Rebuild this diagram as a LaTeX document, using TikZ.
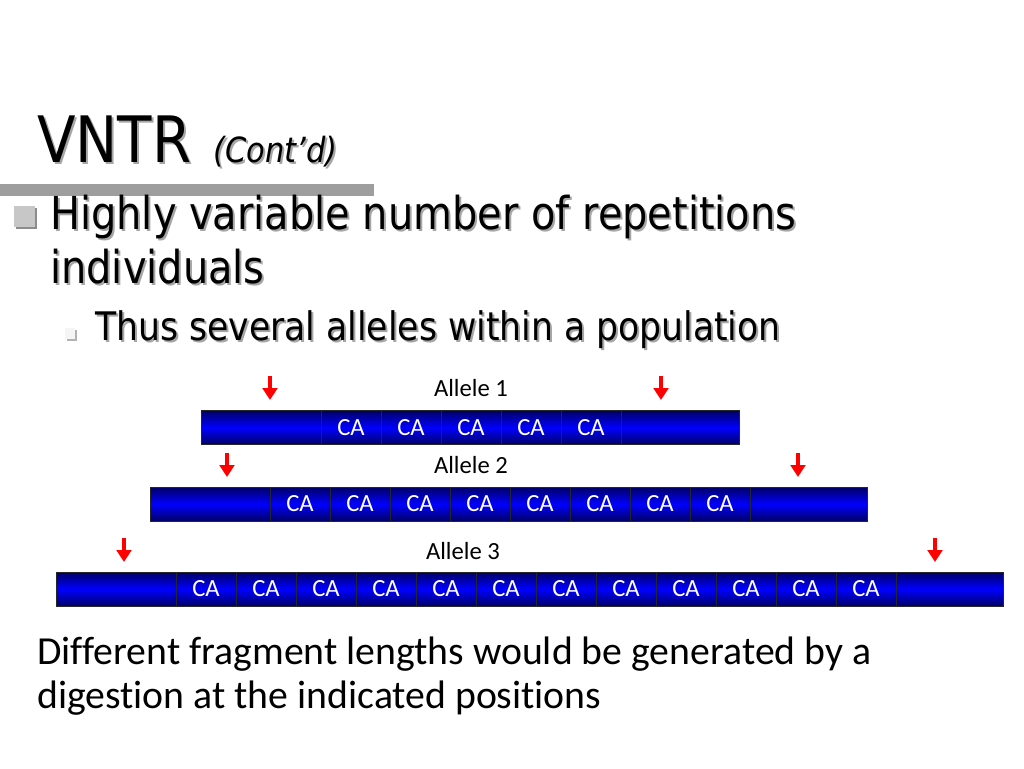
\documentclass[tikz,border=0pt]{standalone}
\usepackage{fontspec}
\setmainfont{Carlito}[Ligatures=NoCommon]
\newfontfamily\tahoma[FakeStretch=0.88]{DejaVu Sans}
\usetikzlibrary{arrows.meta}
\newcommand\shad[1]{\rlap{\kern1.5pt\raisebox{-1.5pt}{\color{black!35}#1}}#1}
\tikzset{
  cell/.style={draw=black!85, line width=0.6pt, minimum height=25.5pt, minimum width=45pt,
    inner sep=0pt, top color=blue!40!black, bottom color=blue!40!black, middle color=blue,
    text=white, font=\fontsize{18.5}{20}\selectfont},
  cut/.style={red, line width=3.5pt, -{Triangle[width=11pt,length=9pt]}},
  allele/.style={font=\fontsize{18.5}{20}\selectfont},
}
\begin{document}
\begin{tikzpicture}[x=0.75pt, y=-0.75pt]
    \useasboundingbox (0,0) rectangle (1024,768);
    % Title and rule
    \node[anchor=base west, inner sep=0pt, font=\tahoma\fontsize{48}{50}\selectfont] (title) at (37,162) {\shad{VNTR}};
    \node[anchor=base west, inner sep=0pt, font=\tahoma\itshape\fontsize{26}{28}\selectfont] (contd) at (213,162) {\shad{(Cont’d)}};
    \fill[black!38] (0,184) rectangle (374,196);

    % Bullets
    \fill[black!45] (16,208) rectangle (37,229);
    \fill[black!22] (14,206) rectangle (35,227);
    \node[anchor=base west, inner sep=0pt, font=\tahoma\fontsize{34}{36}\selectfont] (bul1) at (50,229) {\shad{Highly variable number of repetitions}};
    \node[anchor=base west, inner sep=0pt, font=\tahoma\fontsize{34}{36}\selectfont] (bul2) at (50,283) {\shad{individuals}};
    \fill[black!30] (67,330) rectangle (77,341);
    \fill[black!4] (65,328) rectangle (75,339);
    \node[anchor=base west, inner sep=0pt, font=\tahoma\fontsize{29.5}{31}\selectfont] (bul3) at (95,340) {\shad{Thus several alleles within a population}};

    % Three alleles
    \foreach \r/\x/\y/\n/\w in {1/201/427.5/5/118, 2/150/504/8/117, 3/56/589/12/107} {
        \node[cell, minimum width=90pt] (a\r l) at (\x+60,\y) {};
        \foreach \i in {1,...,\n}
            \node[cell] (a\r c\i) at (\x+90+60*\i,\y) {CA};
        \node[cell, minimum width=0.75pt*\w] (a\r r) at (\x+120+60*\n+\w/2,\y) {};
    }
    \node[allele] (lab1) at (471,388) {Allele 1};
    \node[allele] (lab2) at (471,465) {Allele 2};
    \node[allele] (lab3) at (463,551) {Allele 3};

    % Cut sites
    \foreach \r/\p/\q/\t in {1/270/661/376, 2/227/798/453, 3/124/935/538} {
        \coordinate (cut\r a) at (\p,\t);
        \coordinate (cut\r b) at (\q,\t);
        \draw[cut] (cut\r a) -- ++(0,24);
        \draw[cut] (cut\r b) -- ++(0,24);
    }

    \node[anchor=base west, inner sep=0pt, font=\fontsize{29.8}{31}\selectfont] (note1) at (37,664) {Different fragment lengths would be generated by a};
    \node[anchor=base west, inner sep=0pt, font=\fontsize{29.8}{31}\selectfont] (note2) at (37,708) {digestion at the indicated positions};
\end{tikzpicture}
\end{document}
